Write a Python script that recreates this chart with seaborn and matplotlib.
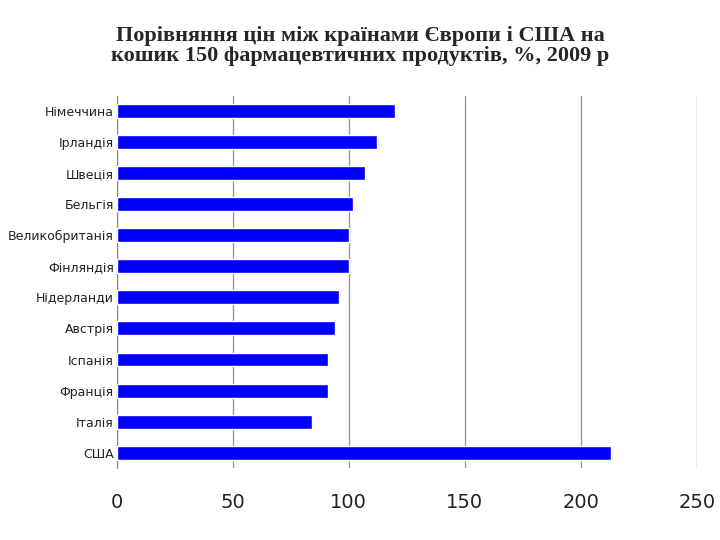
import matplotlib
matplotlib.use('Agg')
import matplotlib.pyplot as plt
import seaborn as sns
import pandas as pd

countries = ['Німеччина', 'Ірландія', 'Швеція', 'Бельгія', 'Великобританія', 'Фінляндія',
             'Нідерланди', 'Австрія', 'Іспанія', 'Франція', 'Італія', 'США']
values = [120, 112, 107, 102, 100, 100, 96, 94, 91, 91, 84, 213]

df = pd.DataFrame({'country': countries, 'value': values})

sns.set_style('white')
fig = plt.figure(figsize=(7.2, 5.4), dpi=100)
ax = fig.add_axes([0.162, 0.133, 0.806, 0.69])
sns.barplot(data=df, x='value', y='country', color='#0000ff', saturation=1, width=0.45, ax=ax, zorder=3)

ax.set_xlim(0, 250)
ax.set_xticks(range(0, 251, 50))
ax.xaxis.grid(True, color='#999999', linewidth=1)
ax.set_axisbelow(True)
for s in ['top', 'right', 'bottom']:
    ax.spines[s].set_visible(False)
ax.spines['left'].set_color('#888888')
ax.set_xlabel('')
ax.set_ylabel('')
ax.tick_params(axis='x', labelsize=14, colors='#222222', pad=18, length=0)
ax.tick_params(axis='y', labelsize=9, colors='#222222', length=0, pad=2)

fig.text(0.5, 0.915, 'Порівняння цін між країнами Європи і США на\nкошик 150 фармацевтичних продуктів, %, 2009 р',
         ha='center', va='center', fontsize=16, fontweight='bold',
         family=['Liberation Serif', 'DejaVu Serif'], linespacing=1.0)

fig.savefig('out.png', dpi=100)
